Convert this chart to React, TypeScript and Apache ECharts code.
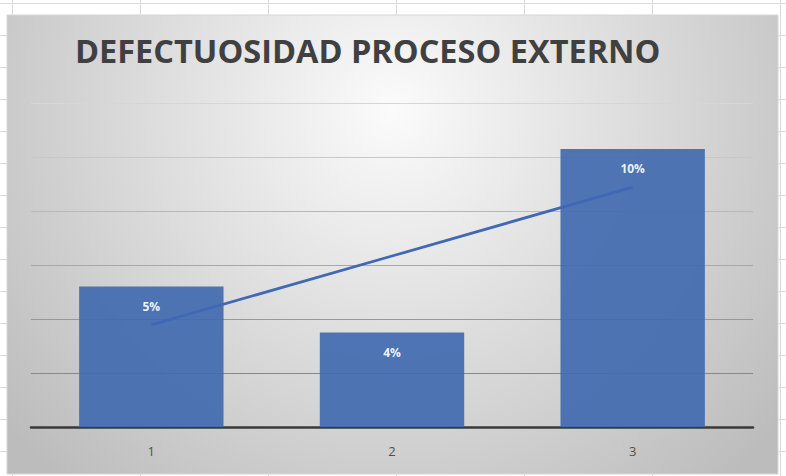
import React, { useEffect, useRef } from "react";
import * as echarts from "echarts";

// Chart data
const categories: string[] = ["1", "2", "3"];
const defectRates: number[] = [0.052, 0.035, 0.103];
const titleText = "DEFECTUOSIDAD PROCESO EXTERNO";

// Axis settings
const yMin = 0;
const yMax = 0.12;
const yInterval = 0.02;

// Least-squares linear trend over the bar values (x = 1..n)
function linearTrend(values: number[]): number[] {
  const n = values.length;
  const xs = values.map((_, i) => i + 1);
  const mx = xs.reduce((a, b) => a + b, 0) / n;
  const my = values.reduce((a, b) => a + b, 0) / n;
  let num = 0;
  let den = 0;
  xs.forEach((x, i) => {
    num += (x - mx) * (values[i] - my);
    den += (x - mx) * (x - mx);
  });
  const slope = num / den;
  return xs.map((x) => my + slope * (x - mx));
}

const FONT = "'Open Sans', 'Noto Sans', sans-serif";

export default function App() {
  const ref = useRef<HTMLDivElement>(null);

  useEffect(() => {
    if (!ref.current) return;
    const chart = echarts.init(ref.current, undefined, { renderer: "svg" });
    const trend = linearTrend(defectRates);

    chart.setOption({
      animation: false,
      graphic: [
        {
          type: "rect",
          z: -10,
          silent: true,
          shape: { x: 7, y: 15, width: 771, height: 459 },
          style: {
            fill: new echarts.graphic.RadialGradient(
              392,
              110,
              500,
              [
                { offset: 0, color: "#fbfbfb" },
                { offset: 1, color: "#bcbcbc" },
              ],
              true
            ),
            stroke: "#d6d6d6",
            lineWidth: 1,
          },
        },
        {
          type: "text",
          x: 75,
          y: 50,
          silent: true,
          style: {
            text: titleText,
            font: `bold 32.5px ${FONT}`,
            fill: "#404040",
            verticalAlign: "middle",
            align: "left",
          },
        },
      ],
      grid: { left: 31, right: 33, top: 103, bottom: 49 },
      xAxis: {
        type: "category",
        data: categories,
        axisLine: { show: true, lineStyle: { color: "#3a3a3a", width: 2.5 } },
        axisTick: { show: false },
        axisLabel: { color: "#505050", fontSize: 13, fontFamily: FONT, margin: 17 },
        splitLine: { show: false },
      },
      yAxis: {
        type: "value",
        min: yMin,
        max: yMax,
        interval: yInterval,
        axisLine: { show: false },
        axisTick: { show: false },
        axisLabel: { show: false },
        splitLine: {
          show: true,
          lineStyle: {
            width: 1.2,
            color: [
              "rgba(0,0,0,0)",
              "#888888",
              "#989898",
              "#a8a8a8",
              "#b8b8b8",
              "#c8c8c8",
              "#d6d6d6",
            ],
          },
        },
      },
      series: [
        {
          type: "bar",
          data: defectRates,
          barCategoryGap: "40%",
          itemStyle: { color: "#416AAF", opacity: 0.92 },
          label: {
            show: true,
            position: "insideTop",
            distance: 14,
            color: "#ffffff",
            fontWeight: "bold",
            fontSize: 12,
            fontFamily: FONT,
            formatter: (p: any) => `${Math.round(p.value * 100)}%`,
          },
        },
        {
          type: "line",
          data: trend,
          symbol: "none",
          silent: true,
          lineStyle: { color: "#3F69B5", width: 2.8 },
          z: 5,
        },
      ],
    });

    return () => chart.dispose();
  }, []);

  return (
    <div
      style={{
        position: "fixed",
        left: 0,
        top: 0,
        width: 786,
        height: 476,
        backgroundColor: "#ffffff",
        backgroundImage:
          "linear-gradient(to right, #d9d9d9 1px, transparent 1px), linear-gradient(to bottom, #d9d9d9 1px, transparent 1px)",
        backgroundSize: "128px 32px",
        backgroundPosition: "12px 3px",
      }}
    >
      <div ref={ref} style={{ width: 786, height: 476 }} />
    </div>
  );
}
